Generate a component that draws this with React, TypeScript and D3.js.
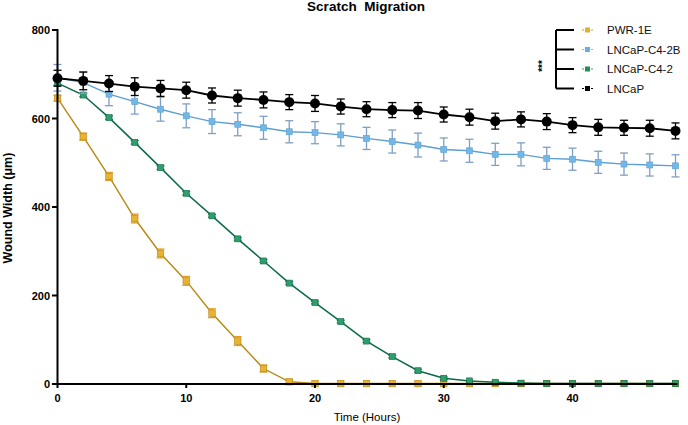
import React from "react";
import * as d3 from "d3";

const hours = [0, 2, 4, 6, 8, 10, 12, 14, 16, 18, 20, 22, 24, 26, 28, 30, 32, 34, 36, 38, 40, 42, 44, 46, 48];

const lncap = [691, 685, 679, 672, 668, 664, 652, 646, 642, 637, 634, 627, 621, 619, 618, 609, 603, 594, 598, 593, 585, 580, 579, 578, 572];
const lncapErr = [18, 20, 18, 20, 18, 18, 17, 18, 18, 17, 18, 17, 17, 17, 18, 17, 18, 18, 17, 18, 17, 18, 17, 18, 18];

const c42b = [692, 681, 655, 638, 621, 606, 593, 587, 579, 570, 568, 563, 555, 548, 540, 530, 527, 519, 519, 510, 508, 501, 497, 495, 493];
const c42bErr = [30, 24, 26, 28, 27, 27, 27, 26, 26, 25, 25, 25, 25, 26, 27, 26, 26, 25, 26, 25, 25, 25, 25, 25, 25];

const c42 = [680, 653, 602, 546, 489, 431, 380, 328, 278, 228, 184, 141, 97, 62, 30, 13, 7, 4, 2, 1, 1, 1, 1, 1, 1];
const c42Err = [5, 4, 4, 4, 4, 4, 3, 3, 3, 3, 3, 3, 3, 3, 3, 3, 2, 2, 1, 1, 1, 1, 1, 1, 1];

const pwr = [646, 559, 469, 374, 295, 233, 160, 97, 35, 5, 1, 1, 1, 1, 1, 1, 1, 1, 1, 1, 1, 1, 1, 1, 1];
const pwrErr = [6, 8, 9, 10, 10, 10, 10, 10, 8, 4, 1, 1, 1, 1, 1, 1, 1, 1, 1, 1, 1, 1, 1, 1, 1];

const xTicks = [0, 10, 20, 30, 40];
const yTicks = [0, 200, 400, 600, 800];

const legendNames = ["PWR-1E", "LNCaP-C4-2B", "LNCaP-C4-2", "LNCaP"];

type Series = {
  name: string;
  values: number[];
  errs: number[];
  line: string;
  fill: string;
  errColor: string;
  shape: "square" | "circle";
  size: number;
  lineWidth: number;
};

const series: Series[] = [
  { name: "PWR-1E", values: pwr, errs: pwrErr, line: "#b8870f", fill: "#e8b233", errColor: "#d9a030", shape: "square", size: 6.5, lineWidth: 1.4 },
  { name: "LNCaP-C4-2", values: c42, errs: c42Err, line: "#0b6a48", fill: "#2f9d6c", errColor: "#2a7a5a", shape: "square", size: 6, lineWidth: 1.5 },
  { name: "LNCaP-C4-2B", values: c42b, errs: c42bErr, line: "#5d9fd2", fill: "#72b8e6", errColor: "#7f9fc2", shape: "square", size: 6, lineWidth: 1.4 },
  { name: "LNCaP", values: lncap, errs: lncapErr, line: "#000000", fill: "#000000", errColor: "#000000", shape: "circle", size: 5, lineWidth: 1.8 },
];

const legendStyle: Record<string, { line: string; fill: string }> = {
  "PWR-1E": { line: "#c9a020", fill: "#e2b030" },
  "LNCaP-C4-2B": { line: "#7fb6e0", fill: "#6aaee2" },
  "LNCaP-C4-2": { line: "#2f9d6c", fill: "#1f8f5c" },
  LNCaP: { line: "#000", fill: "#000" },
};

const W = 688;
const H = 425;

export default function App() {
  const x = d3.scaleLinear().domain([0, 48]).range([57.5, 675.5]);
  const y = d3.scaleLinear().domain([0, 800]).range([384, 30]);
  const lineGen = d3
    .line<number>()
    .x((_, i) => x(hours[i]))
    .y((v) => y(v));

  const font = "'Liberation Sans', Arial, Helvetica, sans-serif";
  const rows = [30, 49.5, 69, 88.5];

  return (
    <svg
      width={W}
      height={H}
      style={{ position: "absolute", left: 0, top: 0, background: "#fff" }}
      fontFamily={font}
    >
      <rect x={0} y={0} width={W} height={H} fill="#fff" />
      {/* title */}
      <text x={366} y={10.5} textAnchor="middle" fontSize={13.5} fontWeight="bold" style={{ whiteSpace: "pre" }}>
        {"Scratch  Migration"}
      </text>

      {/* series */}
      {series.map((s) => (
        <g key={s.name}>
          <path d={lineGen(s.values) || ""} fill="none" stroke={s.line} strokeWidth={s.lineWidth} />
          {s.values.map((v, i) => {
            const cx = x(hours[i]);
            const e = s.errs[i];
            const y1 = y(v + e);
            const y2 = y(Math.max(0, v - e));
            return (
              <g key={i}>
                {e > 2 && (
                  <g stroke={s.errColor} strokeWidth={1.3}>
                    <line x1={cx} x2={cx} y1={y1} y2={y2} />
                    <line x1={cx - 4} x2={cx + 4} y1={y1} y2={y1} />
                    <line x1={cx - 4} x2={cx + 4} y1={y2} y2={y2} />
                  </g>
                )}
                {s.shape === "circle" ? (
                  <circle cx={cx} cy={y(v)} r={s.size} fill={s.fill} />
                ) : (
                  <rect
                    x={cx - s.size / 2}
                    y={y(v) - s.size / 2}
                    width={s.size}
                    height={s.size}
                    fill={s.fill}
                    stroke={s.line}
                    strokeWidth={0.6}
                  />
                )}
              </g>
            );
          })}
        </g>
      ))}

      {/* axes */}
      <g stroke="#000" strokeWidth={2}>
        <line x1={57.5} x2={57.5} y1={y(800) - 1} y2={y(0) + 1} />
        <line x1={56.5} x2={x(48) + 2} y1={y(0)} y2={y(0)} />
        {yTicks.map((t) => (
          <line key={"yt" + t} x1={52} x2={57.5} y1={y(t)} y2={y(t)} />
        ))}
        {xTicks.map((t) => (
          <line key={"xt" + t} x1={x(t)} x2={x(t)} y1={y(0)} y2={y(0) + 4} />
        ))}
      </g>
      {yTicks.map((t) => (
        <text key={"yl" + t} x={50} y={y(t) + 4} textAnchor="end" fontSize={11} fontWeight="bold">
          {t}
        </text>
      ))}
      {xTicks.map((t) => (
        <text key={"xl" + t} x={x(t)} y={402} textAnchor="middle" fontSize={11} fontWeight="bold">
          {t}
        </text>
      ))}
      <text x={367} y={421} textAnchor="middle" fontSize={11.5}>
        Time (Hours)
      </text>
      <text
        transform={`translate(12,208) rotate(-90)`}
        textAnchor="middle"
        fontSize={12.5}
        fontWeight="bold"
      >
        Wound Width (μm)
      </text>

      {/* legend */}
      <g stroke="#000" strokeWidth={2} fill="none">
        <line x1={556} x2={556} y1={rows[0]} y2={rows[3]} />
        {rows.map((r, i) => (
          <line key={"br" + i} x1={556} x2={574} y1={r} y2={r} />
        ))}
      </g>
      <text transform="translate(546,66) rotate(-90)" textAnchor="middle" fontSize={10} fontWeight="bold">
        ***
      </text>
      {legendNames.map((n, i) => {
        const st = legendStyle[n];
        const r = rows[i];
        return (
          <g key={n}>
            <line x1={582} x2={594} y1={r} y2={r} stroke={st.line} strokeWidth={1.2} strokeDasharray="2,1" />
            <rect x={585} y={r - 2.5} width={5} height={5} fill={st.fill} />
            <text x={607} y={r + 4} fontSize={11.5} fill="#111">
              {n}
            </text>
          </g>
        );
      })}
    </svg>
  );
}
